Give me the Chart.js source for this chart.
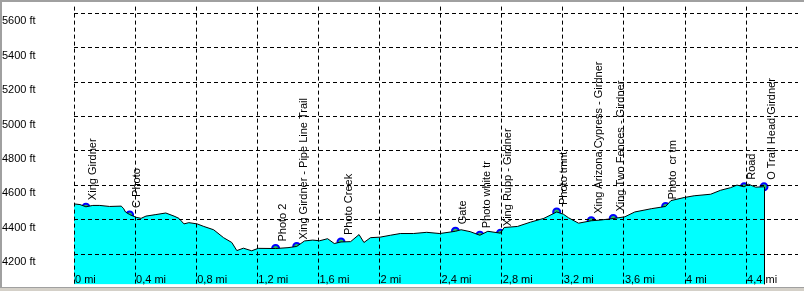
<!DOCTYPE html>
<html>
<head>
<meta charset="utf-8">
<script src="https://cdn.jsdelivr.net/npm/chart.js@4/dist/chart.umd.min.js"></script>
<style>
  html, body { margin: 0; padding: 0; background: #fff; }
  canvas { display: block; }
</style>
</head>
<body>
<canvas id="chart-profile" width="804" height="291"></canvas>
<script>
// Perfil de altitude (distância em mi, altitude em ft)
const distMi = [0.000, 0.039, 0.078, 0.123, 0.169, 0.233, 0.309, 0.324, 0.337, 0.364, 0.407, 0.439, 0.471, 0.536, 0.601, 0.655, 0.687, 0.720, 0.752, 0.806,
  0.850, 0.914, 0.979, 1.033, 1.066, 1.109, 1.163, 1.206, 1.320, 1.401, 1.458, 1.509, 1.563, 1.608, 1.660, 1.704, 1.748, 1.811, 1.866, 1.898,
  1.941, 2.004, 2.071, 2.136, 2.222, 2.309, 2.395, 2.497, 2.534, 2.593, 2.657, 2.709, 2.792, 2.816, 2.903, 2.988, 3.076, 3.160, 3.204, 3.238,
  3.303, 3.386, 3.444, 3.530, 3.606, 3.671, 3.779, 3.873, 3.908, 3.995, 4.060, 4.168, 4.233, 4.298, 4.340, 4.387, 4.416, 4.462, 4.517];
const elevFt = [4493, 4489, 4476, 4484, 4484, 4478, 4480, 4467, 4446, 4431, 4415, 4409, 4422, 4431, 4440, 4422, 4409, 4377, 4384, 4377,
  4362, 4343, 4297, 4269, 4222, 4236, 4221, 4235, 4234, 4239, 4246, 4278, 4283, 4279, 4291, 4263, 4272, 4274, 4315, 4269,
  4297, 4300, 4311, 4321, 4321, 4328, 4321, 4334, 4343, 4332, 4311, 4334, 4323, 4356, 4362, 4387, 4409, 4446, 4433, 4412,
  4381, 4395, 4399, 4408, 4418, 4446, 4465, 4478, 4512, 4530, 4540, 4549, 4572, 4587, 4602, 4592, 4607, 4590, 4592];

// Waypoints
const wpNames = ['Xing Girdner', 'C Photo', 'Photo 2', 'Xing Girdner - Pipe Line Trail', 'Photo Creek', 'Gate', 'Photo white tr',
  'Xing Rupp - Girdner', 'Photo tmnt', 'Xing Arizona Cypress - Girdner', 'Xing Two Fences - Girdner', 'Photo  cr tm', 'Road', 'O Trail Head Girdner'];
const wpDist = [0.078, 0.364, 1.320, 1.458, 1.748, 2.497, 2.657, 2.792, 3.160, 3.386, 3.530, 3.873, 4.387, 4.517];
const wpElev = [4474, 4429, 4234, 4246, 4272, 4334, 4311, 4323, 4446, 4395, 4408, 4478, 4592, 4592];

// Ticks
const xTicks = [0, 0.4, 0.8, 1.2, 1.6, 2, 2.4, 2.8, 3.2, 3.6, 4, 4.4];
const yTicks = [4200, 4400, 4600, 4800, 5000, 5200, 5400, 5600];
const xMin = 0, xMax = 4.7396;
const yMin = 4025.9, yMax = 5637.4;

const FONT = { family: "'Liberation Sans', Arial, sans-serif", size: 11 };
const fmtMi = v => String(v).replace('.', ',') + ' mi';

const labelsPlugin = {
  id: 'wpLabels',
  afterDatasetsDraw(chart) {
    const ctx = chart.ctx;
    const area = chart.chartArea;
    // linha vertical no fim do perfil
    const prof = chart.getDatasetMeta(0).data;
    const last = prof[prof.length - 1];
    ctx.save();
    ctx.strokeStyle = '#000';
    ctx.lineWidth = 1;
    ctx.beginPath();
    ctx.moveTo(Math.round(last.x) + 0.5, last.y);
    ctx.lineTo(Math.round(last.x) + 0.5, area.bottom);
    ctx.stroke();

    // nomes dos waypoints, na vertical
    ctx.font = `${FONT.size}px ${FONT.family}`;
    ctx.fillStyle = '#000';
    ctx.textAlign = 'left';
    ctx.textBaseline = 'top';
    chart.getDatasetMeta(1).data.forEach((pt, i) => {
      ctx.save();
      ctx.translate(pt.x + 2, pt.y - 7);
      ctx.rotate(-Math.PI / 2);
      ctx.fillText(wpNames[i], 0, 0);
      ctx.restore();
    });
    ctx.restore();
  },
  afterDraw(chart) {
    const ctx = chart.ctx;
    const w = chart.width, h = chart.height;
    const area = chart.chartArea;
    const xs = chart.scales.x;
    ctx.save();
    // rótulos do eixo x dentro da área do gráfico
    ctx.font = `${FONT.size}px ${FONT.family}`;
    ctx.fillStyle = '#000';
    ctx.textAlign = 'left';
    ctx.textBaseline = 'alphabetic';
    xs.ticks.forEach(t => {
      ctx.fillText(fmtMi(t.value), xs.getPixelForValue(t.value) + 1, area.bottom - 1);
    });
    // bordas
    ctx.fillStyle = '#a0a0a0';
    ctx.fillRect(0, 0, w, 2);
    ctx.fillRect(0, 0, 2, h);
    ctx.fillStyle = '#d4d0c8';
    ctx.fillRect(0, 288, w, h - 288);
    ctx.fillStyle = '#a0a0a0';
    ctx.fillRect(0, 287, w, 1);
    ctx.restore();
  }
};

const ctx = document.getElementById('chart-profile').getContext('2d');
new Chart(ctx, {
  type: 'line',
  data: {
    datasets: [
      {
        data: distMi.map((d, i) => ({ x: d, y: elevFt[i] })),
        borderColor: '#000',
        borderWidth: 1,
        backgroundColor: '#00ffff',
        fill: 'start',
        pointRadius: 0,
        tension: 0
      },
      {
        data: wpDist.map((d, i) => ({ x: d, y: wpElev[i] })),
        showLine: false,
        pointRadius: 3.5,
        pointBorderWidth: 2,
        pointBorderColor: '#0000ff',
        pointBackgroundColor: '#20c060'
      }
    ]
  },
  options: {
    responsive: false,
    animation: false,
    layout: { padding: { left: 2, top: 0, right: 0, bottom: 0 } },
    plugins: { legend: { display: false }, tooltip: { enabled: false } },
    scales: {
      x: {
        type: 'linear',
        min: xMin, max: xMax,
        afterFit: s => { s.height = 4; },
        afterBuildTicks: s => { s.ticks = xTicks.map(v => ({ value: v })); },
        grid: { color: '#000', lineWidth: 1, drawTicks: false, z: 1 },
        border: { display: false, dash: [4, 3] },
        ticks: { display: false }
      },
      y: {
        type: 'linear',
        min: yMin, max: yMax,
        afterFit: s => { s.width = 72; },
        afterBuildTicks: s => { s.ticks = yTicks.map(v => ({ value: v })); },
        grid: { color: '#000', lineWidth: 1, drawTicks: false, z: 1 },
        border: { display: false, dash: [4, 3] },
        ticks: {
          crossAlign: 'far',
          labelOffset: 8,
          padding: 0,
          color: '#000',
          font: FONT,
          callback: v => v + ' ft'
        }
      }
    }
  },
  plugins: [labelsPlugin]
});
</script>
</body>
</html>
